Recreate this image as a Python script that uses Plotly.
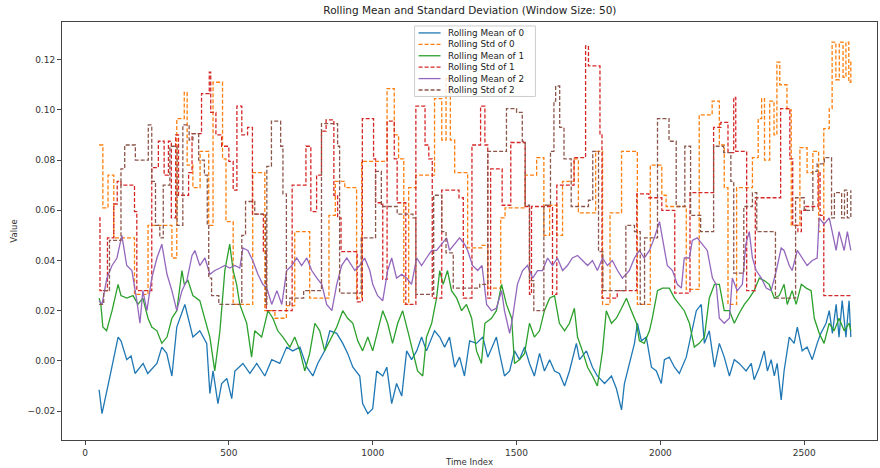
import plotly.graph_objects as go

# ---------------- data (time index, value) ----------------
mean0 = [(49,-0.0115),(59,-0.021),(87,-0.006),(115,0.0095),(125,0.008),(145,0.0005),(160,0.002),(174,-0.005),
 (202,-0.001),(218,-0.005),(250,-0.001),(267,0.0055),(284,0.003),(302,-0.006),(319,0.0135),(347,0.0225),(359,0.017),
 (375,0.0095),(399,0.012),(423,0.007),(434,-0.013),(445,-0.004),(462,-0.017),(475,-0.009),(493,-0.007),(510,-0.015),
 (521,-0.004),(549,-0.001),(573,-0.005),(597,-0.001),(625,-0.006),(649,0.0005),(677,-0.001),(701,0.0055),(722,0.004),
 (747,0.0055),(771,-0.0025),(792,-0.006),(809,-0.001),(833,0.004),(851,0.012),(875,0.011),(896,0.007),(913,0.003),
 (931,-0.0025),(955,-0.006),(965,-0.017),(983,-0.021),(1000,-0.019),(1014,-0.004),(1035,-0.006),(1049,-0.0025),
 (1066,-0.017),(1083,-0.009),(1101,-0.014),(1118,0.004),(1135,0.0005),(1153,0.004),(1170,0.0095),(1187,0.004),
 (1215,0.012),(1233,0.0095),(1250,0.0055),(1267,0.0095),(1285,-0.0025),(1302,0.0015),(1319,-0.006),(1337,0.008),
 (1361,0.007),(1383,0.0095),(1400,0.0015),(1415,0.0055),(1430,0.0095),(1441,0.003),(1458,-0.006),(1476,-0.004),
 (1493,0.004),(1510,0.0005),(1528,0.0055),(1545,-0.001),(1562,-0.006),(1580,0.003),(1597,-0.004),(1615,0.0005),
 (1632,-0.004),(1649,-0.005),(1667,-0.01),(1684,-0.004),(1708,0.007),(1719,0.0005),(1743,0.004),(1764,-0.0025),
 (1781,-0.006),(1806,-0.009),(1830,-0.006),(1847,-0.011),(1865,-0.0195),(1875,-0.009),(1892,-0.001),(1910,0.007),
 (1920,0.015),(1934,0.008),(1951,0.0095),(1969,-0.0025),(1986,-0.004),(2003,-0.009),(2014,0.0005),(2031,0.0015),
 (2049,-0.0025),(2066,-0.005),(2090,0.0015),(2108,0.011),(2125,0.02),(2142,0.0225),(2153,0.007),(2170,0.012),
 (2188,-0.0025),(2205,0.007),(2222,0.0015),(2240,-0.006),(2257,0.0005),(2274,-0.001),(2298,-0.004),(2316,-0.001),
 (2326,-0.0075),(2344,-0.0025),(2361,0.004),(2372,-0.004),(2385,0.0005),(2396,-0.006),(2406,-0.001),(2420,-0.0155),
 (2430,-0.004),(2448,0.0095),(2465,0.007),(2476,0.0135),(2493,0.004),(2510,0.0055),(2528,0.0005),(2545,0.007),
 (2558,0.011),(2576,0.015),(2587,0.02),(2598,0.011),(2611,0.0225),(2621,0.0095),(2632,0.024),(2645,0.0095),
 (2656,0.024),(2662,0.0095)]

std0 = [(49,0.086),(62,0.061),(80,0.074),(100,0.049),(172,0.0265),(219,0.054),(302,0.041),(319,0.0965),(345,0.107),
 (355,0.078),(375,0.069),(400,0.0835),(430,0.054),(445,0.111),(478,0.0805),(490,0.0555),(515,0.0225),(583,0.075),
 (625,0.02),(660,0.017),(700,0.022),(729,0.0515),(781,0.025),(848,0.058),(870,0.0715),(903,0.069),(944,0.025),
 (962,0.0795),(1050,0.1085),(1075,0.09),(1090,0.0805),(1108,0.0225),(1125,0.069),(1150,0.074),(1215,0.1045),
 (1240,0.088),(1255,0.1125),(1270,0.088),(1285,0.075),(1330,0.045),(1380,0.046),(1400,0.029),(1445,0.057),
 (1460,0.061),(1530,0.074),(1570,0.081),(1595,0.05),(1615,0.062),(1640,0.05),(1660,0.0715),(1700,0.0805),
 (1715,0.059),(1775,0.0835),(1799,0.0225),(1825,0.059),(1865,0.0835),(1920,0.0225),(1965,0.078),(2005,0.066),
 (2020,0.0615),(2090,0.0285),(2135,0.098),(2180,0.1035),(2205,0.086),(2222,0.069),(2235,0.0225),(2265,0.069),
 (2320,0.081),(2340,0.0965),(2352,0.1045),(2362,0.08),(2380,0.1035),(2395,0.09),(2405,0.119),(2415,0.11),
 (2440,0.1),(2455,0.054),(2485,0.085),(2510,0.075),(2530,0.0835),(2550,0.0515),(2568,0.0925),(2587,0.1005),
 (2597,0.127),(2610,0.112),(2622,0.127),(2635,0.113),(2645,0.127),(2655,0.111),(2662,0.12)]

mean1 = [(49,0.025),(55,0.0225),(62,0.0135),(75,0.012),(94,0.02),(115,0.0305),(125,0.026),(145,0.025),(167,0.026),
 (184,0.0225),(201,0.025),(219,0.017),(232,0.0135),(250,0.012),(267,0.007),(285,0.0095),(302,0.017),(319,0.02),
 (337,0.036),(345,0.0305),(358,0.032),(375,0.026),(399,0.024),(417,0.017),(434,0.0095),(451,-0.004),(469,0.012),
 (486,0.036),(503,0.0465),(515,0.036),(527,0.0305),(538,0.0225),(562,0.015),(579,0.0015),(590,0.012),(614,0.0095),
 (636,0.02),(653,0.017),(670,0.012),(688,0.0095),(712,0.0055),(729,0.0095),(747,0.004),(764,-0.004),(781,0.003),
 (799,0.015),(816,0.012),(833,0.004),(858,0.0095),(875,0.0135),(896,0.02),(913,0.017),(931,0.015),(948,0.008),
 (965,0.004),(983,0.0095),(1000,0.004),(1017,0.012),(1035,0.02),(1052,0.015),(1069,0.007),(1087,0.015),(1104,0.02),
 (1122,0.012),(1139,0.004),(1156,-0.004),(1174,-0.006),(1187,0.0095),(1205,0.015),(1222,0.025),(1233,0.036),
 (1245,0.0305),(1260,0.036),(1274,0.028),(1292,0.025),(1309,0.02),(1326,0.0225),(1344,0.017),(1361,0.004),
 (1378,-0.001),(1390,0.015),(1413,0.017),(1430,0.02),(1448,0.0305),(1465,0.0225),(1483,0.017),(1493,-0.001),
 (1510,0.0005),(1528,0.003),(1545,0.015),(1562,0.0095),(1580,0.012),(1597,0.02),(1615,0.025),(1632,0.026),
 (1649,0.015),(1667,0.012),(1684,0.015),(1701,0.021),(1712,0.0095),(1729,0.004),(1747,-0.0025),(1764,-0.006),
 (1781,-0.01),(1799,0.004),(1812,0.02),(1830,0.015),(1847,0.017),(1865,0.021),(1882,0.025),(1899,0.02),(1917,0.015),
 (1927,0.008),(1944,0.007),(1962,0.012),(1972,0.017),(1990,0.028),(2007,0.029),(2031,0.029),(2049,0.025),
 (2066,0.0225),(2083,0.02),(2101,0.015),(2118,0.0055),(2135,0.007),(2153,0.0095),(2170,0.025),(2188,0.0305),
 (2205,0.0305),(2222,0.02),(2240,0.02),(2257,0.015),(2274,0.019),(2292,0.0225),(2309,0.025),(2326,0.028),
 (2344,0.033),(2361,0.032),(2378,0.0305),(2396,0.025),(2413,0.026),(2430,0.0305),(2441,0.0225),(2458,0.028),
 (2472,0.0225),(2490,0.0305),(2507,0.029),(2524,0.028),(2535,0.017),(2552,0.011),(2569,0.007),(2587,0.015),
 (2604,0.012),(2621,0.017),(2639,0.012),(2656,0.015),(2662,0.012)]

std1 = [(49,0.057),(52,0.028),(78,0.049),(100,0.0625),(112,0.0715),(125,0.07),(172,0.0595),(180,0.028),(232,0.077),
 (255,0.0875),(275,0.074),(290,0.0875),(300,0.057),(315,0.09),(325,0.066),(360,0.075),(372,0.0905),(405,0.1065),
 (432,0.115),(437,0.099),(455,0.09),(475,0.0855),(500,0.0795),(515,0.068),(528,0.1015),(545,0.09),(565,0.093),
 (582,0.0585),(620,0.0435),(630,0.02),(720,0.07),(768,0.0855),(785,0.0595),(805,0.074),(822,0.0915),(838,0.096),
 (865,0.066),(878,0.057),(890,0.0435),(946,0.0235),(964,0.0965),(1003,0.0805),(1010,0.063),(1035,0.0325),
 (1050,0.0955),(1075,0.0805),(1085,0.063),(1115,0.0225),(1150,0.1015),(1182,0.086),(1195,0.0805),(1207,0.025),
 (1240,0.068),(1300,0.065),(1315,0.025),(1345,0.086),(1375,0.1015),(1390,0.086),(1400,0.025),(1410,0.0765),
 (1450,0.062),(1480,0.087),(1530,0.0615),(1545,0.0265),(1552,0.0615),(1625,0.0265),(1640,0.07),(1700,0.081),
 (1740,0.1255),(1750,0.1175),(1790,0.09),(1797,0.025),(1850,0.028),(1918,0.0665),(1960,0.065),
 (2005,0.06),(2050,0.027),(2103,0.067),(2185,0.093),(2210,0.095),(2235,0.083),(2255,0.105),(2262,0.0835),
 (2300,0.028),(2330,0.065),(2418,0.1005),(2450,0.0805),(2460,0.054),(2478,0.0515),(2490,0.06),(2505,0.0615),
 (2548,0.075),(2555,0.058),(2568,0.026),(2662,0.026)]

mean2 = [(49,0.024),(59,0.0225),(76,0.033),(94,0.038),(111,0.041),(128,0.05),(145,0.038),(163,0.036),(180,0.024),
 (191,0.015),(201,0.028),(215,0.02),(232,0.033),(250,0.041),(267,0.0465),(285,0.0345),(302,0.028),(319,0.02),
 (337,0.028),(354,0.032),(372,0.042),(382,0.044),(399,0.038),(417,0.041),(434,0.0345),(451,0.036),(469,0.037),
 (486,0.038),(503,0.037),(521,0.038),(538,0.037),(549,0.045),(566,0.044),(583,0.04),(601,0.0345),(618,0.0305),
 (632,0.029),(649,0.0225),(667,0.028),(684,0.0225),(701,0.036),(719,0.038),(736,0.041),(753,0.038),(771,0.041),
 (788,0.036),(806,0.033),(823,0.0305),(840,0.0225),(858,0.02),(875,0.0305),(892,0.038),(910,0.041),(925,0.038),
 (938,0.036),(955,0.038),(972,0.041),(990,0.036),(1000,0.0305),(1017,0.026),(1035,0.024),(1052,0.036),(1066,0.041),
 (1083,0.033),(1101,0.0345),(1118,0.033),(1135,0.0305),(1153,0.041),(1170,0.038),(1187,0.041),(1205,0.044),
 (1222,0.044),(1240,0.0465),(1257,0.049),(1267,0.044),(1285,0.0465),(1302,0.049),(1319,0.0465),(1330,0.044),
 (1347,0.038),(1365,0.036),(1380,0.038),(1396,0.0225),(1413,0.02),(1430,0.021),(1448,0.028),(1458,0.02),
 (1476,0.011),(1486,0.017),(1503,0.0305),(1521,0.036),(1538,0.038),(1556,0.033),(1573,0.036),(1590,0.036),
 (1608,0.041),(1625,0.038),(1642,0.041),(1660,0.036),(1677,0.038),(1694,0.041),(1712,0.042),(1729,0.04),
 (1747,0.038),(1764,0.04),(1781,0.036),(1799,0.041),(1816,0.038),(1833,0.04),(1851,0.036),(1868,0.033),
 (1880,0.0345),(1892,0.036),(1910,0.041),(1927,0.044),(1944,0.041),(1962,0.044),(1979,0.049),(1997,0.0555),
 (2007,0.049),(2024,0.038),(2042,0.036),(2059,0.0305),(2073,0.029),(2083,0.041),(2101,0.041),(2111,0.048),
 (2128,0.049),(2146,0.0465),(2163,0.044),(2181,0.033),(2194,0.0305),(2205,0.017),(2222,0.015),(2240,0.017),
 (2250,0.033),(2267,0.028),(2285,0.0305),(2297,0.0465),(2309,0.0515),(2320,0.041),(2333,0.036),(2351,0.033),
 (2368,0.029),(2385,0.028),(2403,0.036),(2420,0.045),(2430,0.044),(2448,0.038),(2458,0.036),(2476,0.044),
 (2493,0.041),(2510,0.038),(2528,0.04),(2545,0.041),(2552,0.057),(2569,0.0545),(2587,0.057),(2598,0.0515),
 (2611,0.044),(2621,0.0515),(2639,0.044),(2650,0.0515),(2662,0.044)]

std2 = [(49,0.0225),(65,0.028),(85,0.048),(125,0.0765),(138,0.086),(175,0.08),(220,0.094),(232,0.0715),(245,0.054),
 (260,0.049),(272,0.07),(295,0.0855),(320,0.054),(340,0.094),(362,0.088),(375,0.0905),(395,0.08),(415,0.074),
 (425,0.054),(430,0.033),(440,0.026),(465,0.0225),(545,0.05),(558,0.0635),(590,0.0585),(628,0.0225),(632,0.0775),
 (648,0.0955),(680,0.0855),(688,0.0665),(700,0.0225),(712,0.025),(760,0.028),(822,0.0945),(878,0.0855),(885,0.027),
 (960,0.049),(1010,0.0755),(1030,0.0615),(1060,0.0615),(1085,0.0585),(1140,0.057),(1150,0.0265),(1212,0.066),
 (1240,0.0515),(1255,0.043),(1280,0.029),(1372,0.0305),(1400,0.0835),(1465,0.1005),(1500,0.099),(1520,0.0875),
 (1530,0.062),(1545,0.032),(1560,0.02),(1595,0.062),(1618,0.0835),(1630,0.1035),(1636,0.1095),(1650,0.093),
 (1665,0.0805),(1690,0.0615),(1750,0.064),(1765,0.0835),(1785,0.0435),(1800,0.028),(1880,0.054),(1910,0.0515),
 (1930,0.0225),(1945,0.049),(1990,0.0965),(2030,0.0875),(2055,0.0615),(2085,0.0855),(2105,0.058),(2140,0.0515),
 (2185,0.0855),(2220,0.083),(2245,0.0715),(2255,0.035),(2290,0.0615),(2320,0.067),(2335,0.0515),(2400,0.025),
 (2470,0.065),(2500,0.06),(2530,0.0755),(2545,0.0785),(2570,0.081),(2595,0.057),(2605,0.067),(2620,0.067),
 (2630,0.057),(2640,0.068),(2650,0.057),(2662,0.068)]

names = ["Rolling Mean of 0", "Rolling Std of 0", "Rolling Mean of 1",
         "Rolling Std of 1", "Rolling Mean of 2", "Rolling Std of 2"]
colors = ["#1f77b4", "#ff7f0e", "#2ca02c", "#d62728", "#9467bd", "#8c564b"]
datasets = [mean0, std0, mean1, std1, mean2, std2]
is_std = [False, True, False, True, False, True]

DASH = "4px,2px"
fig = go.Figure()
for name, pts, color, std in zip(names, datasets, colors, is_std):
    fig.add_trace(go.Scatter(
        x=[p[0] for p in pts], y=[p[1] for p in pts], mode="lines", name=name,
        showlegend=False,
        line=dict(color=color, width=1.3,
                  dash=DASH if std else "solid",
                  shape="hv" if std else "linear"),
    ))

# ---- matplotlib-style legend drawn in paper coordinates (compact row spacing) ----
PL, PR, PT, PB = 62, 878, 22, 443          # plot area in pixels
def px(x): return (x - PL) / (PR - PL)
def py(y): return (PB - y) / (PB - PT)

fig.add_shape(type="rect", xref="paper", yref="paper",
              x0=px(415), x1=px(536), y0=py(97), y1=py(26),
              line=dict(color="#cccccc", width=1), fillcolor="rgba(255,255,255,0.8)", layer="above")
row0, step = 33, 11.5
for i, (name, color, std) in enumerate(zip(names, colors, is_std)):
    yy = row0 + i * step
    fig.add_shape(type="line", xref="paper", yref="paper",
                  x0=px(419), x1=px(441), y0=py(yy), y1=py(yy),
                  line=dict(color=color, width=1.3, dash=DASH if std else "solid"), layer="above")
    fig.add_annotation(xref="paper", yref="paper", x=px(446), y=py(yy), text=name,
                       showarrow=False, xanchor="left", yanchor="middle",
                       font=dict(size=8.8, color="#222"))

fig.update_layout(
    width=880, height=468,
    margin=dict(l=PL, r=880 - PR, t=PT, b=468 - PB),
    paper_bgcolor="white", plot_bgcolor="white",
    font=dict(family="DejaVu Sans", size=9, color="#333"),
    title=dict(text="Rolling Mean and Standard Deviation (Window Size: 50)",
               x=0.534, xanchor="center", y=0.985, yanchor="top",
               font=dict(size=10.5, color="#222")),
    showlegend=False,
)
fig.update_xaxes(range=[-80, 2753], tickvals=[0, 500, 1000, 1500, 2000, 2500],
                 showline=True, mirror=True, linecolor="#444", linewidth=1,
                 ticks="outside", ticklen=4, tickcolor="#444", showgrid=False, zeroline=False,
                 title=dict(text="Time Index", standoff=2, font=dict(size=8.5)))
fig.update_yaxes(range=[-0.0315, 0.135], tickvals=[-0.02, 0.0, 0.02, 0.04, 0.06, 0.08, 0.10, 0.12],
                 tickformat=".2f",
                 showline=True, mirror=True, linecolor="#444", linewidth=1,
                 ticks="outside", ticklen=4, tickcolor="#444", showgrid=False, zeroline=False,
                 title=dict(text="Value", standoff=8, font=dict(size=8.5)))

fig.write_html("out.html")
